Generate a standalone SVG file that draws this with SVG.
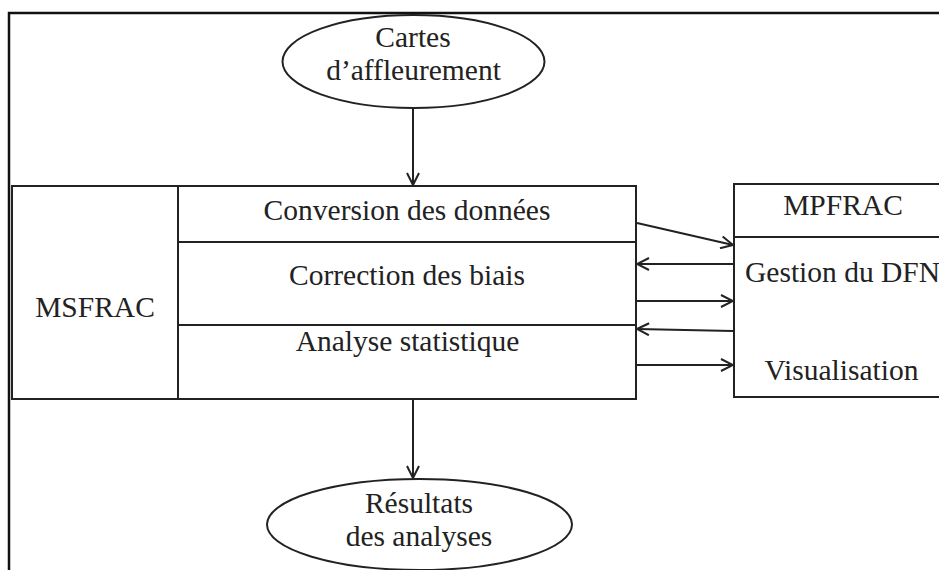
<svg xmlns="http://www.w3.org/2000/svg" width="939" height="570" viewBox="0 0 939 570">
<style>
.ln{fill:none;stroke:#222;stroke-width:2}
.fr{fill:none;stroke:#111;stroke-width:2.5}
.bx{fill:#fff;stroke:#222;stroke-width:2}
.t{font-family:"Liberation Serif","Times New Roman",serif;font-size:29.5px;fill:#222;text-anchor:middle}
.tl{font-family:"Liberation Serif","Times New Roman",serif;font-size:29.5px;fill:#222}
</style>
<defs>
<marker id="ah" viewBox="0 0 14 14" refX="13" refY="7" markerWidth="14" markerHeight="14" markerUnits="userSpaceOnUse" orient="auto">
<path d="M1,1 L13,7 L1,13" fill="none" stroke="#222" stroke-width="2"/>
</marker>
</defs>
<rect width="939" height="570" fill="#fff"/>
<path class="fr" d="M9,570 L9,13 L939,13"/>
<g id="cartes">
<ellipse class="bx" cx="413.5" cy="61.5" rx="131" ry="46.5"/>
<text class="t" x="413" y="47">Cartes</text>
<text class="t" x="413.5" y="80">d’affleurement</text>
</g>
<g id="msfrac">
<rect class="bx" x="12" y="186" width="624" height="213"/>
<line class="ln" x1="178" y1="186" x2="178" y2="399"/>
<line class="ln" x1="178" y1="242" x2="636" y2="242"/>
<line class="ln" x1="178" y1="325" x2="636" y2="325"/>
<text class="t" x="95" y="317">MSFRAC</text>
<text class="t" x="407" y="220">Conversion des données</text>
<text class="t" x="407" y="285">Correction des biais</text>
<text class="t" x="407.5" y="351">Analyse statistique</text>
</g>
<g id="mpfrac">
<rect class="bx" x="734" y="184" width="220" height="213"/>
<line class="ln" x1="734" y1="237" x2="939" y2="237"/>
<text class="t" x="843" y="215">MPFRAC</text>
<text class="tl" x="745" y="282">Gestion du DFN</text>
<text class="t" x="841.5" y="380">Visualisation</text>
</g>
<g id="resultats">
<ellipse class="bx" cx="419.5" cy="524.5" rx="152.5" ry="45.5"/>
<text class="t" x="419" y="513">Résultats</text>
<text class="t" x="419" y="546">des analyses</text>
</g>
<g id="connectors">
<line class="ln" x1="413" y1="108" x2="413" y2="185" marker-end="url(#ah)"/>
<line class="ln" x1="413" y1="400" x2="413" y2="478" marker-end="url(#ah)"/>
<line class="ln" x1="637" y1="223" x2="733" y2="245" marker-end="url(#ah)"/>
<line class="ln" x1="733" y1="264" x2="637" y2="264" marker-end="url(#ah)"/>
<line class="ln" x1="637" y1="301" x2="733" y2="301" marker-end="url(#ah)"/>
<line class="ln" x1="733" y1="331" x2="637" y2="329" marker-end="url(#ah)"/>
<line class="ln" x1="637" y1="365" x2="733" y2="365" marker-end="url(#ah)"/>
</g>
</svg>
